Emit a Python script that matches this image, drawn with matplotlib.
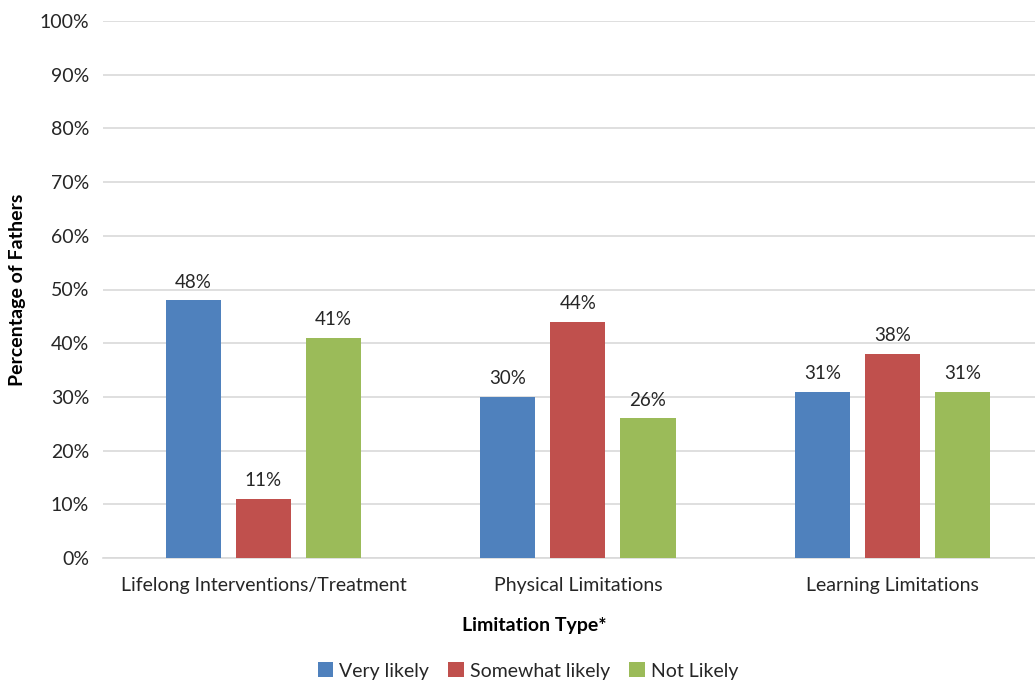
import matplotlib.pyplot as plt
import numpy as np

plt.rcParams['font.family'] = ['Lato', 'DejaVu Sans']

categories = ['Lifelong Interventions/Treatment', 'Physical Limitations', 'Learning Limitations']
very_likely = [48, 30, 31]
somewhat_likely = [11, 44, 38]
not_likely = [41, 26, 31]
series_names = ['Very likely', 'Somewhat likely', 'Not Likely']
colors = ['#4F81BD', '#C0504D', '#9BBB59']

fig = plt.figure(figsize=(10.35, 6.8), dpi=100)
ax = fig.add_axes([103/1035, 1 - 558/680, 1 - 103/1035, (558 - 21)/680])

x = np.arange(len(categories))
w = 0.175
step = 0.2226
handles = []
for i, (vals, name, c) in enumerate(zip([very_likely, somewhat_likely, not_likely], series_names, colors)):
    bars = ax.bar(x + (i - 1) * step, vals, width=w, color=c, label=name, zorder=3)
    handles.append(bars)
    for b, v in zip(bars, vals):
        ax.text(b.get_x() + b.get_width()/2, v + 1.8, f'{v}%', ha='center', va='bottom',
                fontsize=13.5, color='#262626')

ax.set_ylim(0, 100)
ax.set_xlim(-0.51, 2.453)
ax.set_yticks(range(0, 101, 10))
ax.set_yticklabels([f'{t}%' for t in range(0, 101, 10)])
ax.set_xticks(x)
ax.set_xticklabels(categories)
ax.tick_params(axis='both', length=0, labelsize=14, colors='#262626')
ax.tick_params(axis='x', pad=14)
ax.tick_params(axis='y', pad=10)
ax.yaxis.grid(True, color='#d9d9d9', linewidth=1.2, zorder=0)
for s in ['top', 'right', 'left']:
    ax.spines[s].set_visible(False)
ax.spines['bottom'].set_color('#d9d9d9')
ax.spines['bottom'].set_linewidth(1.2)

fig.text(18/1035, 1 - 290/680, 'Percentage of Fathers', rotation=90, ha='center', va='center',
         fontsize=14, fontweight='bold', color='black')
fig.text(534/1035, 1 - 625/680, 'Limitation Type*', ha='center', va='center',
         fontsize=14, fontweight='bold', color='black')

fig.legend(handles=handles, labels=series_names, loc='center', bbox_to_anchor=(528/1035, 1 - 671/680),
           ncol=3, frameon=False, fontsize=14, handlelength=0.8, handleheight=0.8,
           handletextpad=0.3, columnspacing=1.0, labelcolor='#262626')

fig.savefig('out.png', dpi=100)
